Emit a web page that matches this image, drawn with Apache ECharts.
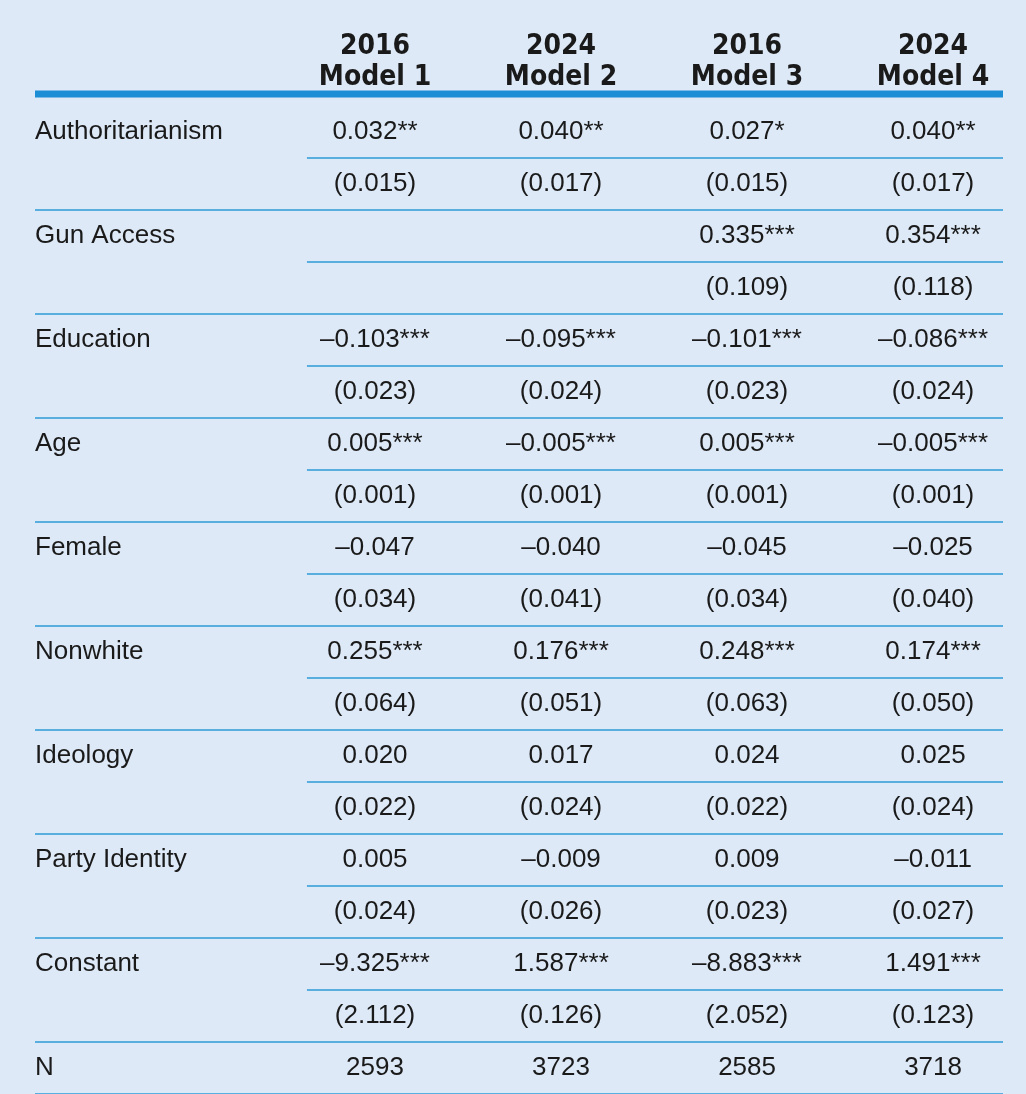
<!DOCTYPE html>
<html>
<head>
<meta charset="utf-8">
<script src="https://cdn.jsdelivr.net/npm/echarts@6/dist/echarts.min.js"></script>
<style>
  html, body { margin: 0; padding: 0; background: #dde9f7; }
  #main { width: 1026px; height: 1094px; }
</style>
</head>
<body>
<div id="main"></div>
<script>
const chart = echarts.init(document.getElementById('main'));

const years = ['2016', '2024', '2016', '2024'];
const models = ['Model 1', 'Model 2', 'Model 3', 'Model 4'];
const variables = ['Authoritarianism', 'Gun Access', 'Education', 'Age', 'Female',
  'Nonwhite', 'Ideology', 'Party Identity', 'Constant'];
const coefs = [
  ['0.032**', '0.040**', '0.027*', '0.040**'],
  ['', '', '0.335***', '0.354***'],
  ['–0.103***', '–0.095***', '–0.101***', '–0.086***'],
  ['0.005***', '–0.005***', '0.005***', '–0.005***'],
  ['–0.047', '–0.040', '–0.045', '–0.025'],
  ['0.255***', '0.176***', '0.248***', '0.174***'],
  ['0.020', '0.017', '0.024', '0.025'],
  ['0.005', '–0.009', '0.009', '–0.011'],
  ['–9.325***', '1.587***', '–8.883***', '1.491***'],
];
const ses = [
  ['(0.015)', '(0.017)', '(0.015)', '(0.017)'],
  ['', '', '(0.109)', '(0.118)'],
  ['(0.023)', '(0.024)', '(0.023)', '(0.024)'],
  ['(0.001)', '(0.001)', '(0.001)', '(0.001)'],
  ['(0.034)', '(0.041)', '(0.034)', '(0.040)'],
  ['(0.064)', '(0.051)', '(0.063)', '(0.050)'],
  ['(0.022)', '(0.024)', '(0.022)', '(0.024)'],
  ['(0.024)', '(0.026)', '(0.023)', '(0.027)'],
  ['(2.112)', '(0.126)', '(2.052)', '(0.123)'],
];
const nObs = ['2593', '3723', '2585', '3718'];

const LEFT = -0.828;
const RIGHT = 4.376;
const INNER = 0.634;
const BLUE = '#2b9ad6';

// cells: [col, row, text, kind]
const cells = [];
models.forEach((m, i) => cells.push([i + 1, -1.35, years[i] + '\n' + m, 'head']));
variables.forEach((v, k) => {
  cells.push([LEFT, 2 * k, v, 'label']);
  coefs[k].forEach((c, i) => cells.push([i + 1, 2 * k, c, 'num']));
  ses[k].forEach((s, i) => cells.push([i + 1, 2 * k + 1, s, 'num']));
});
cells.push([LEFT, 18, 'N', 'label']);
nObs.forEach((n, i) => cells.push([i + 1, 18, n, 'num']));

// rules: [x0, x1, row, width]
const rules = [[LEFT, RIGHT, -0.73, 7]];
variables.forEach((v, k) => {
  rules.push([INNER, RIGHT, 2 * k + 0.5, 1.6]);
  rules.push([LEFT, RIGHT, 2 * k + 1.5, 1.6]);
});
rules.push([LEFT, RIGHT, 18.5, 1.6]);

const bodyFont = '"Liberation Sans", "DejaVu Sans", sans-serif';

chart.setOption({
  backgroundColor: '#dde9f7',
  animation: false,
  grid: { left: 35, right: 23, top: 2, bottom: 0 },
  xAxis: { type: 'value', min: LEFT, max: RIGHT, show: false },
  yAxis: { type: 'value', min: -2.5, max: 18.5, inverse: true, show: false },
  series: [
    {
      type: 'custom',
      data: rules.map(r => [r[0], r[2]]),
      renderItem: (params, api) => {
        const r = rules[params.dataIndex];
        const a = api.coord([r[0], r[2]]);
        const b = api.coord([r[1], r[2]]);
        return {
          type: 'line',
          shape: { x1: a[0], y1: a[1], x2: b[0], y2: b[1] },
          style: { stroke: r[3] > 3 ? '#1b8ed6' : BLUE, lineWidth: r[3] },
        };
      },
    },
    {
      type: 'custom',
      data: cells.map(c => [c[0], c[1]]),
      renderItem: (params, api) => {
        const c = cells[params.dataIndex];
        const p = api.coord([c[0], c[1]]);
        const head = c[3] === 'head';
        return {
          type: 'text',
          x: p[0],
          y: p[1],
          style: {
            text: c[2],
            fill: '#1a1a1a',
            align: c[3] === 'label' ? 'left' : 'center',
            verticalAlign: 'middle',
            font: head
              ? 'bold 28px "Liberation Sans Narrow", "DejaVu Sans Condensed", sans-serif'
              : '26px ' + bodyFont,
            lineHeight: head ? 31 : 30,
          },
        };
      },
    },
  ],
});
</script>
</body>
</html>
